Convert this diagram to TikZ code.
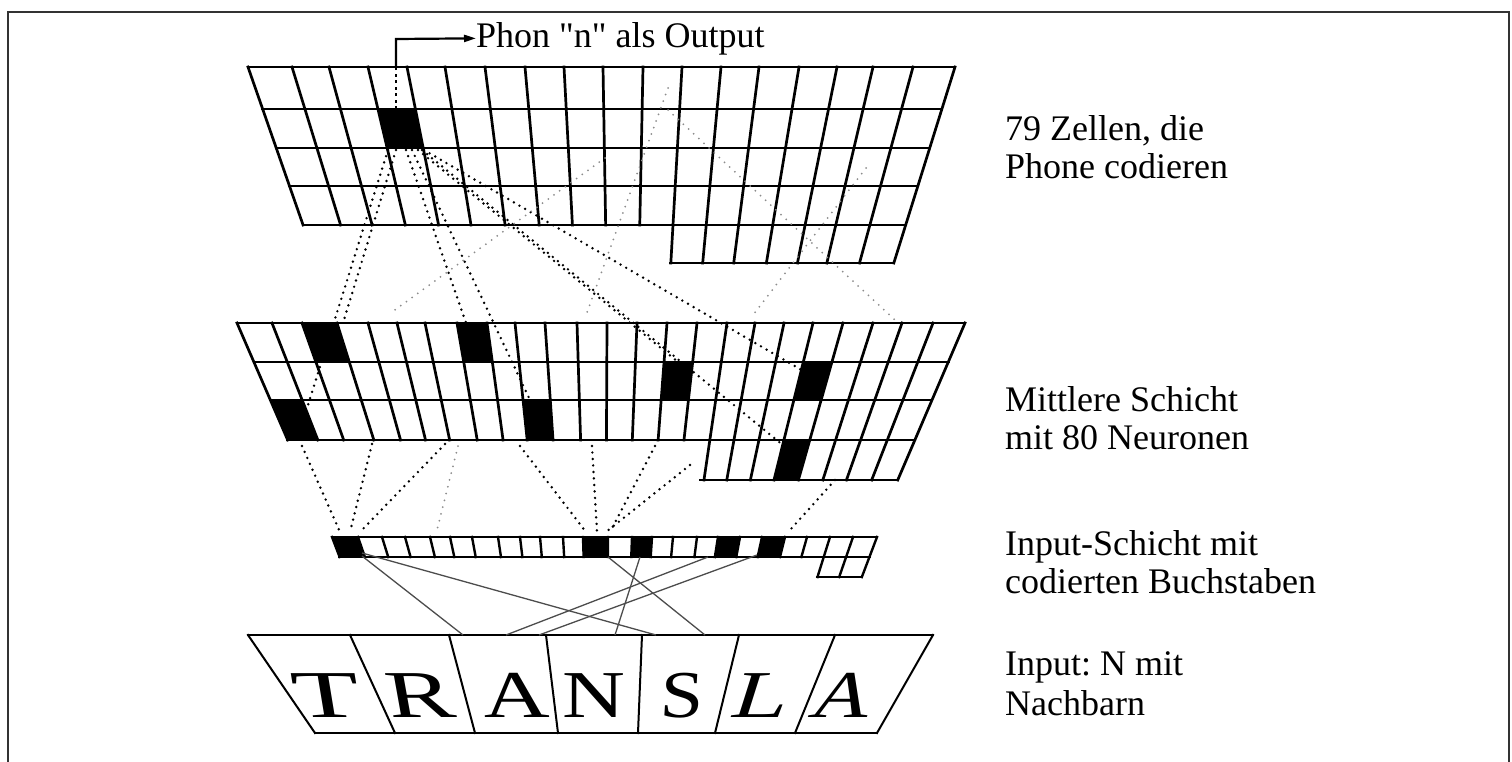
\documentclass[tikz,border=0pt]{standalone}
\usepackage{fontspec}
\setmainfont{Liberation Serif}
\newfontfamily\qfont{Liberation Serif}
\usetikzlibrary{arrows.meta}

\begin{document}
\frenchspacing
\begin{tikzpicture}[x=1pt,y=-1pt,
  declare function={
    tx(\a,\b)=621+(\a-621)*((1137-\b)/1070);
    mx(\a,\b)=603+(\a-603)*((1168-\b)/845);
    ix(\a,\b)=605+(\a-605)*((1255-\b)/718);
  },
  gridline/.style={line width=2.7pt, line cap=rect, black},
  barline/.style={line width=2.4pt, line cap=rect, black},
  letterline/.style={line width=2pt, line cap=rect, black},
  dots/.style={line width=2.7pt, line cap=round, dash pattern=on 0pt off 6.5pt, black},
  fdots/.style={line width=2pt, line cap=round, dash pattern=on 0pt off 7pt, black!45},
  wire/.style={line width=1.3pt, black!70},
  label/.style={font=\fontsize{36}{40}\selectfont, inner sep=0pt, anchor=base west},
  letter/.style={font=\fontsize{67}{67}\selectfont, inner sep=0pt, anchor=base, transform shape},
]
\useasboundingbox (0,0) rectangle (1512,761);

% frame
\draw[line width=1.6pt, black!80] (8,790) -- (8,12) -- (1509,12) -- (1509,790);

% ---------- output layer: 79 cells ----------
\def\TL{248,292,329,368,407,445,485,525,564,603,643,682,721,759,799,837,873,913,955}
\fill ({tx(368,109)},109) -- ({tx(407,109)},109) -- ({tx(407,148)},148) -- ({tx(368,148)},148) -- cycle;
\foreach \r in {67,109,148,186,225}
  \draw[gridline] ({tx(248,\r)},\r) -- ({tx(955,\r)},\r);
\draw[gridline] ({tx(682,263)},263) -- ({tx(955,263)},263);
\foreach \c [count=\i from 0] in \TL {
  \pgfmathsetmacro\yb{\i>10 ? 263 : 225}
  \draw[gridline] (\c,67) -- ({tx(\c,\yb)},\yb);
}

% ---------- hidden layer: 80 cells ----------
\def\ML{237,272,302,337,368,397,425,457,487,515,545,577,607,637,667,697,727,755,784,813,843,873,902,933,965}
\foreach \a/\b/\ya/\yb in {302/337/323/362, 457/487/323/362, 667/697/362/400, 813/843/362/400,
                            237/272/400/440, 515/545/400/440, 813/843/440/480}
  \fill ({mx(\a,\ya)},\ya) -- ({mx(\b,\ya)},\ya) -- ({mx(\b,\yb)},\yb) -- ({mx(\a,\yb)},\yb) -- cycle;
\foreach \r in {323,362,400,440}
  \draw[gridline] ({mx(237,\r)},\r) -- ({mx(965,\r)},\r);
\draw[gridline] ({mx(722,480)},480) -- ({mx(965,480)},480);
\foreach \c [count=\i from 0] in \ML {
  \pgfmathsetmacro\yb{\i>15 ? 480 : 440}
  \draw[gridline] (\c,323) -- ({mx(\c,\yb)},\yb);
}

% ---------- input layer: coded letters ----------
\def\IL{332,358,382,405,430,450,472,498,520,540,563,583,608,632,652,673,697,718,740,762,785,807,830,853,877}
\foreach \a/\b in {332/358, 583/608, 632/652, 718/740, 762/785}
  \fill ({ix(\a,537)},537) -- ({ix(\b,537)},537) -- ({ix(\b,557)},557) -- ({ix(\a,557)},557) -- cycle;
\foreach \r in {537,557}
  \draw[barline] ({ix(332,\r)},\r) -- ({ix(877,\r)},\r);
\draw[barline] ({ix(830,577)},577) -- ({ix(877,577)},577);
\foreach \c [count=\i from 0] in \IL {
  \pgfmathsetmacro\yb{\i>21 ? 577 : 557}
  \draw[barline] (\c,537) -- ({ix(\c,\yb)},\yb);
}

% ---------- letter window ----------
\draw[line width=2.8pt, line cap=rect] (248,635) -- (933,635);
\draw[line width=2.8pt, line cap=rect] (315,733) -- (877,733);
\foreach \t/\b in {248/315, 350/395, 449/475, 546/558, 642/638, 739/715, 835/795, 933/877}
  \draw[letterline] (\t,635) -- (\b,733);

\foreach \ch/\cx/\sx/\sl [count=\n] in {T/328/1.65/-0.1, R/421/1.5/-0.12, A/516/1.36/-0.05, N/594/1.3/0,
                                      S/682/1.16/0.05, L/762/1.37/0.23, A/843/1.25/0.25} {
  \begin{scope}[shift={({\cx-\sl*22},717)}]
    \node[letter, xscale=\sx, xslant=\sl] (let\n) at (0,0) {\ch};
  \end{scope}
}

% ---------- output connector ----------
\coordinate (outcell) at (396,109);
\coordinate (outtop) at (396,67);
\node[label] (phon) at (476,47) {Phon {\qfont"}n{\qfont"} als Output};
\draw[line width=2.4pt, dash pattern=on 3pt off 3.5pt] (outcell) -- (outtop);
\draw[line width=2.2pt, -{Triangle[length=12pt,width=7pt]}] (outtop) -- (396,39) -- (phon.west);

% ---------- output -> hidden connections ----------
\coordinate (oa) at (388,150);  \coordinate (ha) at (307,408);
\coordinate (ob) at (396,150);  \coordinate (hb) at (343,323);
\coordinate (oc) at (406,150);  \coordinate (hc) at (466,323);
\coordinate (od) at (412,150);  \coordinate (hd) at (530,400);
\coordinate (oe) at (418,150);  \coordinate (he) at (678,362);
\coordinate (of) at (422,150);  \coordinate (hf) at (795,455);
\coordinate (og) at (424,150);  \coordinate (hg) at (805,372);
\foreach \s/\e in {oa/ha, ob/hb, oc/hc, od/hd, oe/he, of/hf, og/hg}
  \draw[dots] (\s) -- (\e);

\coordinate (pa) at (668,88);   \coordinate (qa) at (585,318);
\coordinate (pb) at (668,110);  \coordinate (qb) at (895,320);
\coordinate (pc) at (866,168);  \coordinate (qc) at (753,315);
\coordinate (pd) at (605,158);  \coordinate (qd) at (392,312);
\foreach \s/\e in {pa/qa, pb/qb, pc/qc, pd/qd}
  \draw[fdots] (\s) -- (\e);

% ---------- hidden -> input connections ----------
\coordinate (ma) at (302,446);  \coordinate (na) at (340,532);
\coordinate (mb) at (372,444);  \coordinate (nb) at (350,532);
\coordinate (mc) at (445,444);  \coordinate (nc) at (360,532);
\coordinate (md) at (520,446);  \coordinate (nd) at (586,532);
\coordinate (me) at (592,446);  \coordinate (ne) at (597,532);
\coordinate (mf) at (655,446);  \coordinate (nf) at (610,532);
\coordinate (mg) at (690,465);  \coordinate (ng) at (606,532);
\coordinate (mh) at (835,480);  \coordinate (nh) at (790,530);
\foreach \s/\e in {ma/na, mb/nb, mc/nc, md/nd, me/ne, mf/nf, mg/ng, mh/nh}
  \draw[dots] (\s) -- (\e);
\coordinate (mi) at (458,446);  \coordinate (ni) at (437,530);
\draw[fdots] (mi) -- (ni);

% ---------- input -> letter wires ----------
\coordinate (ia) at (362,556);  \coordinate (la) at (463,635);
\coordinate (ib) at (362,553);  \coordinate (lb) at (656,635);
\coordinate (ic) at (608,557);  \coordinate (lc) at (705,635);
\coordinate (id) at (640,557);  \coordinate (ld) at (615,635);
\coordinate (ie) at (708,557);  \coordinate (le) at (506,635);
\coordinate (if) at (757,555);  \coordinate (lf) at (539,635);
\foreach \s/\e in {ia/la, ib/lb, ic/lc, id/ld, ie/le, if/lf}
  \draw[wire] (\s) -- (\e);

% ---------- layer labels ----------
\node[label] (t1a) at (1005,140) {79 Zellen, die};
\node[label] (t1b) at (1005,178) {Phone codieren};
\node[label] (t2a) at (1005,411) {Mittlere Schicht};
\node[label] (t2b) at (1005,449) {mit 80 Neuronen};
\node[label] (t3a) at (1005,555) {Input-Schicht mit};
\node[label] (t3b) at (1005,593) {codierten Buchstaben};
\node[label] (t4a) at (1005,675) {Input: N mit};
\node[label] (t4b) at (1005,715) {Nachbarn};
\end{tikzpicture}
\end{document}
